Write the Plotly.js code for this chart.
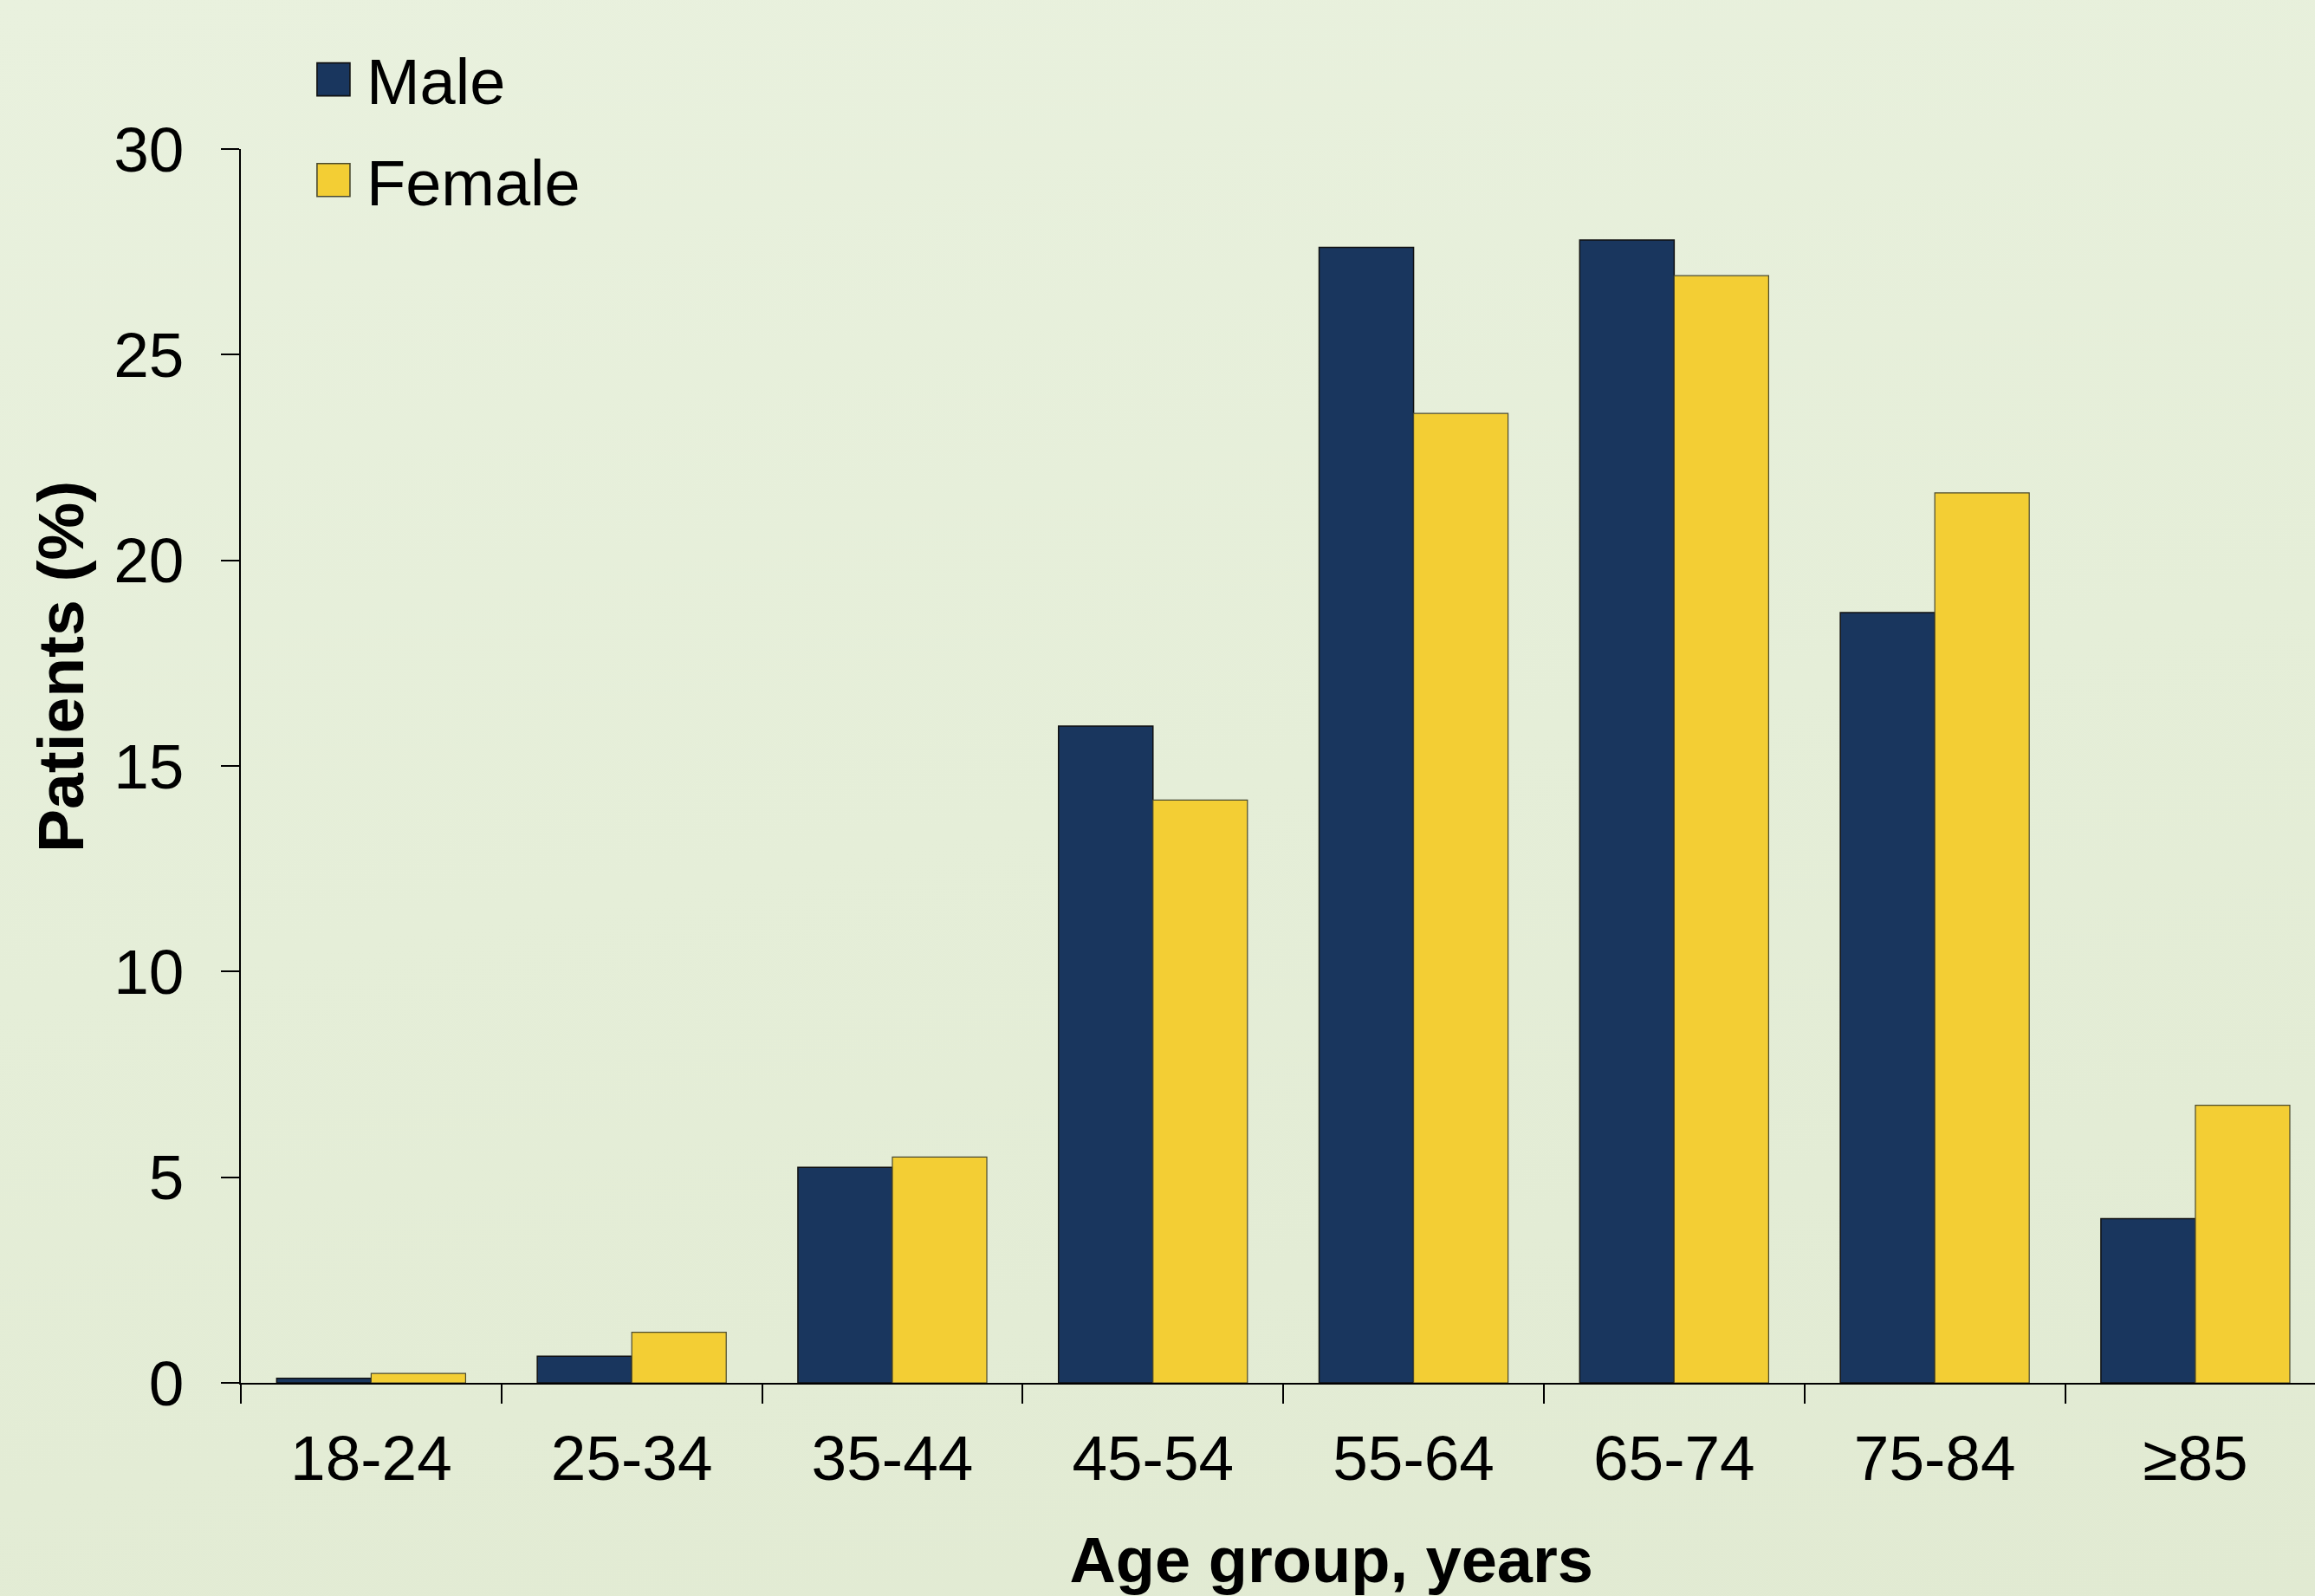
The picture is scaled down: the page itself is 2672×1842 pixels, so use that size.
<!DOCTYPE html>
<html>
<head>
<meta charset="utf-8">
<script src="https://cdn.plot.ly/plotly-3.0.1.min.js"></script>
<style>
  html, body { margin: 0; padding: 0; }
  body { width: 2672px; height: 1842px; overflow: hidden;
         background: linear-gradient(170deg, #e9f1de 0%, #e5eed8 50%, #e1ead2 100%); }
  #chart { width: 2672px; height: 1842px; }
</style>
</head>
<body>
<div id="chart"></div>
<script>
const ageGroups = ['18-24', '25-34', '35-44', '45-54', '55-64', '65-74', '75-84', '≥85'];
const maleValues = [0.11, 0.65, 5.24, 15.97, 27.61, 27.79, 18.73, 3.99];
const femaleValues = [0.23, 1.23, 5.49, 14.17, 23.57, 26.92, 21.64, 6.75];
const yTickValues = [0, 5, 10, 15, 20, 25, 30];

const FONT = '"Liberation Sans", Arial, sans-serif';
const PAD_X = '&nbsp;'.repeat(6);
const PAD_Y = '&nbsp;'.repeat(11);

const traces = [
  {
    type: 'bar', name: 'Male', x: ageGroups, y: maleValues,
    legendgroup: 'm',
    marker: { color: '#19365e', line: { color: '#111111', width: 1.5 } }
  },
  {
    type: 'bar', name: 'Female', x: ageGroups, y: femaleValues,
    legendgroup: 'f',
    marker: { color: '#f3ce34', line: { color: '#4a4a30', width: 1.2 } }
  }
];

const layout = {
  width: 2672, height: 1842,
  paper_bgcolor: 'rgba(0,0,0,0)', plot_bgcolor: 'rgba(0,0,0,0)',
  margin: { l: 278, r: 0, t: 172, b: 246, pad: 0 },
  font: { family: FONT, size: 72, color: '#000000' },
  barmode: 'group', bargap: 0.275, bargroupgap: 0,
  showlegend: true,
  legend: {
    x: 0.0313, xanchor: 'left', y: 1.0948, yanchor: 'top',
    bgcolor: 'rgba(0,0,0,0)', borderwidth: 0,
    traceorder: 'grouped', tracegroupgap: 17,
    font: { family: FONT, size: 74, color: '#000000' },
    itemwidth: 60
  },
  xaxis: {
    type: 'category', range: [-0.5, 7.459], fixedrange: true,
    showline: true, linecolor: '#000000', linewidth: 2,
    ticks: 'outside', tickson: 'boundaries', ticklen: 22, tickwidth: 2, tickcolor: '#000000',
    showgrid: false, zeroline: false,
    tickfont: { family: FONT, size: 73, color: '#000000' },
    ticklabelstandoff: 22,
    automargin: false,
    title: { text: PAD_X + '<b>Age group, years</b>', font: { family: FONT, size: 74, color: '#000000' }, standoff: 56 }
  },
  yaxis: {
    range: [0, 30], fixedrange: true, tickvals: yTickValues,
    showline: true, linecolor: '#000000', linewidth: 2,
    ticks: 'outside', ticklen: 21, tickwidth: 2, tickcolor: '#000000',
    showgrid: false, zeroline: false,
    tickfont: { family: FONT, size: 73, color: '#000000' },
    ticklabelstandoff: 28,
    automargin: false,
    title: { text: PAD_Y + '<b>Patients (%)</b>', font: { family: FONT, size: 75, color: '#000000' }, standoff: 10 }
  }
};

Plotly.newPlot('chart', traces, layout, { staticPlot: true, displayModeBar: false }).then(function () {
  document.querySelectorAll('.legend .traces').forEach(function (item) {
    const txt = item.querySelector('.legendtext');
    const tx = txt ? parseFloat(txt.getAttribute('x')) || 70 : 70;
    item.querySelectorAll('.legendpoints path').forEach(function (p) {
      p.setAttribute('transform', 'translate(' + (tx - 38) + ',0) scale(3.17)');
      p.style.strokeWidth = '0.5px';
    });
  });
});
</script>
</body>
</html>
